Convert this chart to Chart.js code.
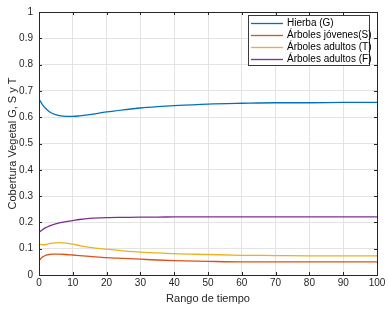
<!DOCTYPE html>
<html>
<head>
<meta charset="utf-8">
<script src="https://cdn.jsdelivr.net/npm/chart.js@4/dist/chart.umd.min.js"></script>
<style>
  html, body { margin: 0; padding: 0; background: #fff; }
  #wrap { width: 389px; height: 310px; }
</style>
</head>
<body>
<div id="wrap"><canvas id="c"></canvas></div>
<script>
// tiempo y series
const tiempo = [0, 1, 2, 3, 4, 6, 8, 10, 12, 15, 20, 25, 30, 35, 40, 50, 60, 70, 80, 90, 100];
const hierbaG = [0.669, 0.648, 0.633, 0.622, 0.614, 0.606, 0.603, 0.603, 0.605, 0.610, 0.620, 0.628, 0.635, 0.640, 0.644, 0.650, 0.653, 0.655, 0.655, 0.656, 0.656];
const jovenesS = [0.054, 0.068, 0.075, 0.078, 0.079, 0.079, 0.078, 0.076, 0.074, 0.071, 0.066, 0.063, 0.060, 0.057, 0.055, 0.052, 0.050, 0.050, 0.050, 0.050, 0.050];
const adultosT = [0.117, 0.115, 0.116, 0.119, 0.121, 0.123, 0.121, 0.117, 0.112, 0.105, 0.098, 0.092, 0.087, 0.084, 0.081, 0.078, 0.075, 0.074, 0.073, 0.073, 0.073];
const adultosF = [0.162, 0.172, 0.180, 0.186, 0.191, 0.198, 0.203, 0.207, 0.211, 0.215, 0.218, 0.219, 0.220, 0.220, 0.221, 0.221, 0.221, 0.221, 0.221, 0.221, 0.221];
const etiquetas = ['Hierba (G)', 'Árboles jóvenes(S)', 'Árboles adultos (T)', 'Árboles adultos (F)'];
const colores = ['#0072BD', '#D95319', '#EDB120', '#7E2F8E'];

const series = [hierbaG, jovenesS, adultosT, adultosF];
const FONT = 'Liberation Sans, Arial, sans-serif';
const AXIS = '#262626';

function puntos(vals) {
    return vals.map((v, i) => ({ x: tiempo[i], y: v }));
}

// ticks hacia adentro + leyenda dentro del area, estilo matlab
const matlabPlugin = {
    id: 'matlab',
    afterDraw(chart) {
        const ctx = chart.ctx;
        const a = chart.chartArea;
        const xs = chart.scales.x, ys = chart.scales.y;
        ctx.save();
        ctx.strokeStyle = AXIS;
        ctx.lineWidth = 1;
        ctx.beginPath();
        xs.ticks.forEach(t => {
            const px = Math.round(xs.getPixelForValue(t.value)) + 0.5;
            ctx.moveTo(px, a.bottom); ctx.lineTo(px, a.bottom - 3);
            ctx.moveTo(px, a.top); ctx.lineTo(px, a.top + 3);
        });
        ys.ticks.forEach(t => {
            const py = Math.round(ys.getPixelForValue(t.value)) + 0.5;
            ctx.moveTo(a.left, py); ctx.lineTo(a.left + 3, py);
            ctx.moveTo(a.right, py); ctx.lineTo(a.right - 3, py);
        });
        ctx.stroke();
        ctx.strokeRect(Math.round(a.left) + 0.5, Math.round(a.top) + 0.5,
            Math.round(a.right - a.left), Math.round(a.bottom - a.top));

        // leyenda
        const bx = 248.5, by = 15.5, bw = 121, bh = 50;
        ctx.fillStyle = '#fff';
        ctx.fillRect(bx, by, bw, bh);
        ctx.strokeStyle = '#3a3a3a';
        ctx.strokeRect(bx, by, bw, bh);
        ctx.font = '10px ' + FONT;
        ctx.textBaseline = 'middle';
        chart.data.datasets.forEach((ds, i) => {
            const y = 23.5 + i * 12;
            ctx.strokeStyle = ds.borderColor;
            ctx.lineWidth = 1.3;
            ctx.beginPath();
            ctx.moveTo(251, y); ctx.lineTo(283, y);
            ctx.stroke();
            ctx.fillStyle = '#000';
            ctx.fillText(ds.label, 287, y);
        });
        ctx.restore();
    }
};

new Chart(document.getElementById('c'), {
    type: 'line',
    data: {
        datasets: series.map((s, i) => ({
            label: etiquetas[i],
            data: puntos(s),
            borderColor: colores[i],
            backgroundColor: colores[i],
            borderWidth: 1.3,
            pointRadius: 0,
            cubicInterpolationMode: 'monotone',
            fill: false
        }))
    },
    options: {
        responsive: true,
        maintainAspectRatio: false,
        animation: false,
        layout: { padding: { top: 7, right: 12, left: 2, bottom: 0 } },
        plugins: { legend: { display: false }, tooltip: { enabled: false } },
        scales: {
            x: {
                type: 'linear',
                min: 0, max: 100,
                ticks: { stepSize: 10, color: AXIS, font: { family: FONT, size: 10 }, padding: 2, maxRotation: 0 },
                grid: { color: '#e3e3e3', drawTicks: false },
                border: { display: false },
                title: { display: true, text: 'Rango de tiempo', color: AXIS, font: { family: FONT, size: 11 }, padding: { top: 2 } },
                afterFit: s => { s.height = 35; }
            },
            y: {
                min: 0, max: 1,
                ticks: { stepSize: 0.1, color: AXIS, font: { family: FONT, size: 10 }, padding: 6,
                    callback: v => Math.round(v * 10) / 10 },
                grid: { color: '#e3e3e3', drawTicks: false },
                border: { display: false },
                title: { display: true, text: 'Cobertura Vegetal G, S y T', color: AXIS, font: { family: FONT, size: 11 }, padding: { bottom: 2 } },
                afterFit: s => { s.width = 37; }
            }
        }
    },
    plugins: [matlabPlugin]
});
</script>
</body>
</html>
